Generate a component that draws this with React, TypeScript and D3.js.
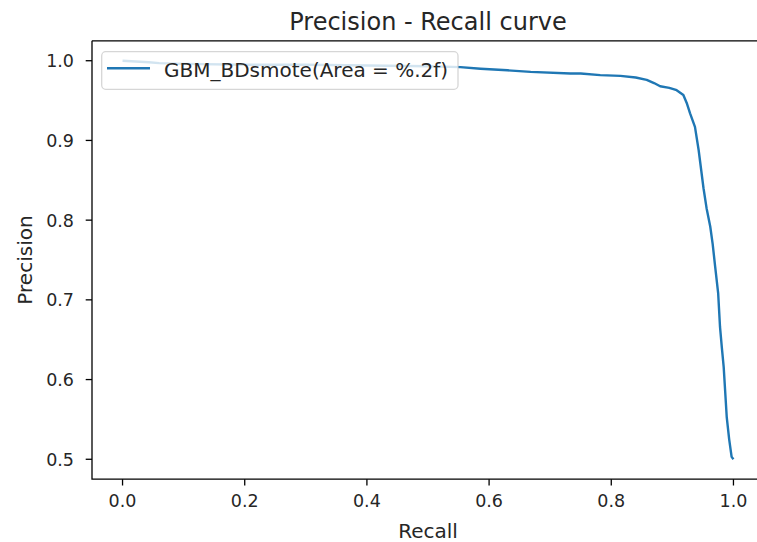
import React from "react";
import * as d3 from "d3";

const recall = [0, 0.043, 0.06, 0.1, 0.2, 0.3, 0.4, 0.5, 0.553, 0.586, 0.63, 0.668, 0.733, 0.75, 0.782, 0.815, 0.84, 0.858, 0.87, 0.88, 0.895, 0.907, 0.918, 0.924, 0.929, 0.937, 0.943, 0.951, 0.956, 0.962, 0.966, 0.97, 0.975, 0.978, 0.981, 0.984, 0.989, 0.993, 0.997, 1.0];
const precision = [1.0, 0.998, 0.997, 0.996, 0.995, 0.995, 0.994, 0.993, 0.992, 0.99, 0.988, 0.986, 0.984, 0.984, 0.982, 0.981, 0.979, 0.976, 0.972, 0.968, 0.966, 0.963, 0.957, 0.946, 0.934, 0.917, 0.888, 0.84, 0.815, 0.792, 0.77, 0.742, 0.708, 0.666, 0.64, 0.616, 0.553, 0.525, 0.503, 0.5];
const xTicks = [0, 0.2, 0.4, 0.6, 0.8, 1.0];
const yTicks = [0.5, 0.6, 0.7, 0.8, 0.9, 1.0];
const title = "Precision - Recall curve";
const xLabel = "Recall";
const yLabel = "Precision";
const legendLabel = "GBM_BDsmote(Area = %.2f)";

const W = 757, H = 542;
const left = 92, right = 764, top = 40.8, bottom = 479.2;
const FONT = "DejaVu Sans, sans-serif";
const BLUE = "#1f77b4";

export default function App() {
  const x = d3.scaleLinear().domain([-0.05, 1.05]).range([left, right]);
  const y = d3.scaleLinear().domain([0.475, 1.025]).range([bottom, top]);
  const pts = recall.map((r, i) => [r, precision[i]] as [number, number]);
  const line = d3.line<[number, number]>().x(d => x(d[0])).y(d => y(d[1]));
  const tickFs = 17.5;
  return (
    <svg width={W} height={H} style={{ position: "absolute", left: 0, top: 0 }} fontFamily={FONT}>
      <rect x={0} y={0} width={W} height={H} fill="#fff" />
      <path d={line(pts) || ""} fill="none" stroke={BLUE} strokeWidth={2.4} strokeLinejoin="round" />
      {/* spines */}
      <path d={`M${left},${top}H${W + 10}M${left},${top}V${bottom}H${W + 10}`} fill="none" stroke="#000" strokeWidth={1.3} />
      {xTicks.map(t => (
        <g key={"x" + t}>
          <line x1={x(t)} x2={x(t)} y1={bottom} y2={bottom + 6.3} stroke="#000" strokeWidth={1.3} />
          <text x={x(t)} y={507} textAnchor="middle" fontSize={tickFs} fill="#262626">{t.toFixed(1)}</text>
        </g>
      ))}
      {yTicks.map(t => (
        <g key={"y" + t}>
          <line x1={left - 6.3} x2={left} y1={y(t)} y2={y(t)} stroke="#000" strokeWidth={1.3} />
          <text x={74} y={y(t) + 0.729 * tickFs / 2} textAnchor="end" fontSize={tickFs} fill="#262626">{t.toFixed(1)}</text>
        </g>
      ))}
      <text x={(left + right) / 2} y={29.5} textAnchor="middle" fontSize={24} fill="#262626">{title}</text>
      <text x={(left + right) / 2} y={538} textAnchor="middle" fontSize={20} fill="#262626">{xLabel}</text>
      <text transform={`translate(32,${(top + bottom) / 2}) rotate(-90)`} textAnchor="middle" fontSize={20} fill="#262626">{yLabel}</text>
      {/* legend */}
      <rect x={101.7} y={51.7} width={356.3} height={37.6} rx={4} fill="#fff" fillOpacity={0.8} stroke="#cccccc" strokeOpacity={0.8} strokeWidth={1.3} />
      <line x1={107} x2={150} y1={68.3} y2={68.3} stroke={BLUE} strokeWidth={2.4} />
      <text x={164} y={76.5} fontSize={20} fill="#262626">{legendLabel}</text>
    </svg>
  );
}
